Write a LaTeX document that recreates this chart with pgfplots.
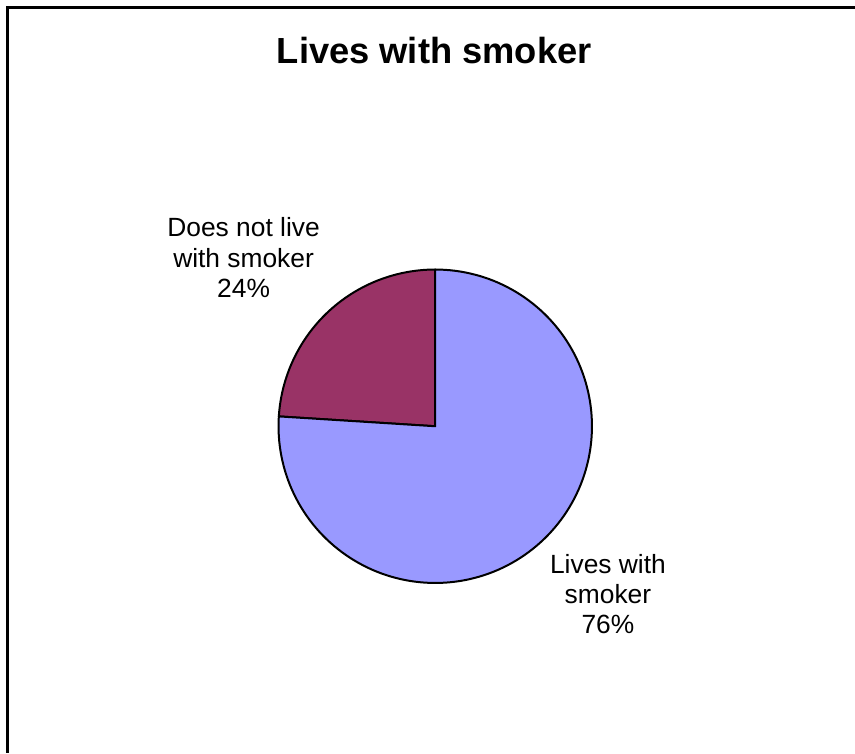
\documentclass[border=0pt]{standalone}
\usepackage{fontspec}
\setmainfont{Liberation Sans}
\usepackage{pgfplots}
\pgfplotsset{compat=1.18}
\definecolor{pieblue}{HTML}{9999FF}
\definecolor{piemaroon}{HTML}{993366}
% slice values (percent)
\def\valDoesNot{24}
\def\valLives{76}
\pgfmathsetmacro{\aStart}{90}
\pgfmathsetmacro{\aMid}{90+3.6*\valDoesNot}
\pgfmathsetmacro{\aEnd}{\aMid+3.6*\valLives}
\begin{document}
\begin{tikzpicture}
\begin{axis}[
  width=855bp, height=753bp, scale only axis,
  xmin=0, xmax=855, ymin=0, ymax=753,
  hide axis, clip=false,
]
\path[fill=white] (axis cs:0,0) rectangle (axis cs:855,753);
\draw[line width=3bp, line cap=rect] (axis cs:7.5,0) -- (axis cs:7.5,745.5) -- (axis cs:855,745.5);
\addplot[fill=piemaroon, draw=black, line width=2bp, line join=round, domain=\aStart:\aMid, samples=60, variable=\t]
  ({436+157*cos(\t)},{326+157*sin(\t)}) -- (axis cs:436,326) -- cycle;
\addplot[fill=pieblue, draw=black, line width=2bp, line join=round, domain=\aMid:\aEnd, samples=150, variable=\t]
  ({436+157*cos(\t)},{326+157*sin(\t)}) -- (axis cs:436,326) -- cycle;
\node[anchor=base, font=\bfseries\fontsize{36.5}{42}\selectfont, inner sep=0pt] at (axis cs:435,689) {Lives with smoker};
\node[anchor=base, align=center, font=\fontsize{26.5}{30.5}\selectfont, inner sep=0pt] at (axis cs:244,455) {Does not live\\with smoker\\24\%};
\node[anchor=base, align=center, font=\fontsize{26.5}{30.5}\selectfont, inner sep=0pt] at (axis cs:609,118) {Lives with\\smoker\\76\%};
\end{axis}
\end{tikzpicture}
\end{document}
